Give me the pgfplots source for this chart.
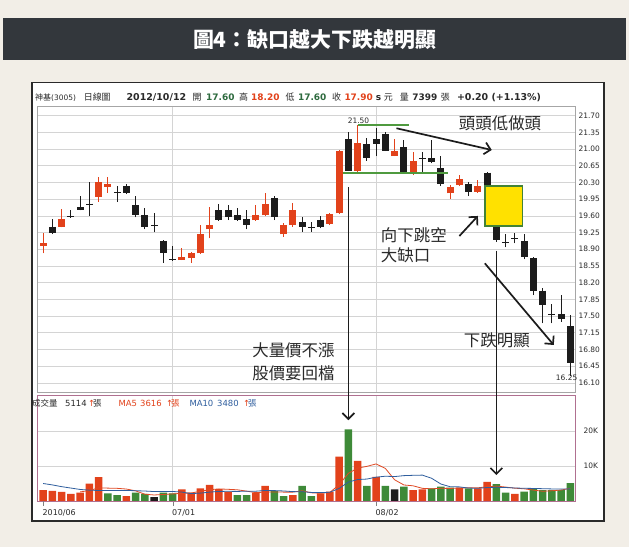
\documentclass[border=0pt]{standalone}
\usepackage{pgfplots}
\pgfplotsset{compat=1.18}
\usepackage{pgfplotstable}
\usepackage{fontspec}
\usetikzlibrary{arrows.meta}
\setmainfont{DejaVu Sans}
\newfontfamily\cjk{Noto Sans CJK TC}

\definecolor{bgc}{HTML}{F2EEE7}
\definecolor{band}{HTML}{33373C}
\definecolor{cred}{HTML}{E2421B}
\definecolor{cblk}{HTML}{1C1C1C}
\definecolor{cgrn}{HTML}{3E8A38}
\definecolor{lgrn}{HTML}{4F9A3F}
\definecolor{gridc}{HTML}{D4D4D4}
\definecolor{mauve}{HTML}{B07090}
\definecolor{ma5}{HTML}{E04A25}
\definecolor{ma10}{HTML}{2F5E9E}
\definecolor{vgreen}{HTML}{2E6B3F}
\definecolor{txt}{HTML}{2A2A2A}
\definecolor{gapy}{HTML}{FFE100}

% daily candles, index i = trading day
\pgfplotstableread{
i  O      H      L      C
0  18.967 19.232 18.813 19.037
2  19.372 19.735 19.358 19.526
6  20.001 20.420 19.896 20.308
7  20.210 20.420 20.085 20.266
15 18.673 18.918 18.673 18.729
16 18.715 18.841 18.617 18.827
17 18.813 19.414 18.806 19.218
18 19.316 19.777 19.127 19.407
23 19.512 19.826 19.498 19.610
24 19.610 20.071 19.596 19.847
26 19.211 19.456 19.162 19.407
27 19.407 19.861 19.372 19.721
31 19.428 19.665 19.407 19.638
32 19.651 20.979 19.638 20.965
34 20.546 21.500 20.504 21.119
38 20.853 21.203 20.853 20.965
40 20.525 20.944 20.455 20.755
44 20.071 20.245 19.959 20.210
45 20.245 20.455 20.224 20.364
47 20.106 20.350 20.085 20.224
}\redc

\pgfplotstableread{
i  O      H      L      C
1  19.372 19.526 19.218 19.246
3  19.589 19.721 19.561 19.568
4  19.777 20.022 19.714 19.721
5  19.855 20.315 19.603 19.835
8  20.092 20.224 19.896 20.071
9  20.224 20.266 20.057 20.085
10 19.826 20.022 19.568 19.617
11 19.610 19.770 19.316 19.372
12 19.407 19.651 19.253 19.379
13 19.078 19.093 18.617 18.813
14 18.687 18.967 18.659 18.666
19 19.721 19.847 19.498 19.512
20 19.721 19.826 19.512 19.568
21 19.610 19.770 19.498 19.512
22 19.526 19.721 19.316 19.400
25 19.973 20.022 19.512 19.568
28 19.470 19.582 19.267 19.372
29 19.365 19.477 19.267 19.345
30 19.512 19.596 19.337 19.358
33 21.203 21.363 20.539 20.546
35 21.105 21.224 20.755 20.804
36 21.203 21.433 20.853 21.105
37 21.307 21.349 20.958 20.965
39 21.035 21.189 20.518 20.525
41 20.811 20.944 20.525 20.790
42 20.804 21.189 20.700 20.734
43 20.595 20.853 20.224 20.266
46 20.266 20.315 20.015 20.106
48 20.504 20.518 20.224 20.245
49 19.372 19.386 19.058 19.093
50 19.044 19.218 18.939 19.023
51 19.134 19.232 19.023 19.113
52 19.078 19.218 18.687 18.729
53 18.708 18.743 17.940 18.031
54 18.031 18.080 17.346 17.730
55 17.548 17.751 17.346 17.528
56 17.541 17.940 17.381 17.437
57 17.290 17.521 16.250 16.507
}\blkc

\tikzset{arr/.style={draw=cblk, line width=1.7bp,
    -{Straight Barb[length=6bp, width=12bp]}}}

\pgfplotsset{
  base/.style={scale only axis, width=538bp, xmin=-0.66, xmax=57.5,
    anchor=south west, clip=false,
    grid style={draw=gridc, line width=0.7bp},
    tick label style={font=\fontsize{7.5}{9}\selectfont, text=txt},
    /pgf/number format/assume math mode=true,
    scaled y ticks=false,
    yticklabel pos=right,
  },
  wick/.style={draw=#1, mark=none, line width=1.1bp,
    quiver={u=0, v=\thisrow{H}-\thisrow{L}}},
  body/.style={draw=#1, mark=none, line width=7bp,
    quiver={u=0, v=\thisrow{C}-\thisrow{O}}},
}

\newcommand\hd[3][txt]{\node[anchor=base west, inner sep=0, text=#1] at (#2,446.5) {#3};}
\newcommand\vh[3][txt]{\node[anchor=west, inner sep=0, text=#1] at (#2,144) {#3};}

\begin{document}
\begin{tikzpicture}[x=1bp,y=1bp]
\fill[bgc] (0,0) rectangle (629,547);
\fill[band] (3,487) rectangle (626,529);
\node[text=white, font=\cjk\bfseries\fontsize{21}{24}\selectfont] at (314.5,507.5) {圖4：缺口越大下跌越明顯};
\filldraw[fill=white, draw=txt, line width=1.1bp] (32,26) rectangle (604,464.5);

% header of the price panel
\hd{35}{{\cjk\fontsize{8}{9}\selectfont 神基}{\fontsize{7.5}{9}\selectfont(3005)}}
\hd{83.6}{\cjk\fontsize{9}{10}\selectfont 日線圖}
\hd{126.4}{\bfseries\fontsize{9.5}{10}\selectfont 2012/10/12}
\hd{192.5}{\cjk\fontsize{9}{10}\selectfont 開}
\hd[vgreen]{206}{\bfseries\fontsize{9}{10}\selectfont 17.60}
\hd{239}{\cjk\fontsize{9}{10}\selectfont 高}
\hd[cred]{251}{\bfseries\fontsize{9}{10}\selectfont 18.20}
\hd{285.4}{\cjk\fontsize{9}{10}\selectfont 低}
\hd[vgreen]{297.9}{\bfseries\fontsize{9}{10}\selectfont 17.60}
\hd{331.8}{\cjk\fontsize{9}{10}\selectfont 收}
\hd[cred]{344.3}{\bfseries\fontsize{9}{10}\selectfont 17.90}
\hd{375.7}{\bfseries\fontsize{9}{10}\selectfont s}
\hd{383.6}{\cjk\fontsize{9}{10}\selectfont 元}
\hd{399.6}{\cjk\fontsize{9}{10}\selectfont 量}
\hd{412.1}{\bfseries\fontsize{9}{10}\selectfont 7399}
\hd{440.7}{\cjk\fontsize{9}{10}\selectfont 張}
\hd{456.8}{\bfseries\fontsize{9.5}{10}\selectfont +0.20 (+1.13\%)}

% price panel
\begin{axis}[base, at={(37bp,155bp)}, height=286bp,
  ymin=15.909, ymax=21.903,
  ytick={16.10,16.45,16.80,17.15,17.50,17.85,18.20,18.55,18.90,19.25,19.60,19.95,20.30,20.65,21.00,21.35,21.70},
  yticklabel style={/pgf/number format/fixed, /pgf/number format/fixed zerofill,
    /pgf/number format/precision=2},
  xtick={14,36}, xticklabels={},
  major tick length=0pt,
  ymajorgrids, xmajorgrids,
  axis line style={draw=gray!70},
]
\addplot[wick=cred] table[x=i, y=L] {\redc};
\addplot[body=cred] table[x=i, y=O] {\redc};
\addplot[wick=cblk] table[x=i, y=L] {\blkc};
\addplot[body=cblk] table[x=i, y=O] {\blkc};

\draw[lgrn, line width=1.5bp] (axis cs:34,21.50) -- (axis cs:39.5,21.50);
\draw[lgrn, line width=1.5bp] (axis cs:32.4,20.50) -- (axis cs:43.75,20.50);
\filldraw[fill=gapy, draw=lgrn!85!black, line width=1.4bp]
  (axis cs:47.75,20.225) rectangle (axis cs:51.83,19.386);
\node[font=\fontsize{7.5}{9}\selectfont, text=txt] at (axis cs:34.1,21.595) {21.50};
\node[font=\fontsize{7.5}{9}\selectfont, text=txt] at (axis cs:56.6,16.21) {16.25};

\node[font=\cjk\fontsize{16.5}{20}\selectfont, text=txt] at (axis cs:49.4,21.545) {頭頭低做頭};
\node[font=\cjk\fontsize{16.5}{20}\selectfont, text=txt, anchor=west, inner sep=0, align=left]
  at (axis cs:36.5,18.99) {向下跳空\\大缺口};
\node[font=\cjk\fontsize{16.5}{20}\selectfont, text=txt] at (axis cs:49.05,16.984) {下跌明顯};
\node[font=\cjk\fontsize{16.5}{22.6}\selectfont, text=txt, anchor=west, inner sep=0, align=left]
  at (axis cs:22.6,16.538) {大量價不漲\\股價要回檔};

\draw[arr] (axis cs:38.2,21.436) -- (axis cs:48.5,20.981);
\draw[arr] (axis cs:45.0,19.178) -- (axis cs:47.0,19.598);
\draw[arr] (axis cs:47.75,18.606) -- (axis cs:55.2,16.894);
\coordinate (c1) at (axis cs:33,20.199);
\coordinate (d1) at (axis cs:49,18.870);
\end{axis}

% volume panel
\begin{axis}[base, at={(37bp,46bp)}, height=106bp,
  ymin=0, ymax=30.3,
  ytick={10,20}, yticklabels={10K,20K},
  xtick={14,36}, xticklabels={07/01,08/02},
  extra x ticks={0}, extra x tick labels={2010/06},
  extra x tick style={grid=none},
  xtick pos=bottom, tick align=outside, major tick length=5bp,
  ytick style={draw=none}, xtick style={draw=gray},
  xticklabel style={anchor=north west, xshift=-4bp, font=\fontsize{8}{9}\selectfont},
  ymajorgrids, xmajorgrids,
  axis line style={draw=mauve},
]
\addplot[ybar, bar width=7.5bp, bar shift=0pt, fill=cred, draw=none] coordinates {
(0,3.1)(1,2.9)(2,2.6)(3,2.0)(4,2.4)(5,5.0)(6,6.8)(9,1.4)(15,3.3)(16,2.4)
(17,3.6)(18,4.6)(19,3.4)(20,2.7)(23,2.4)(24,4.3)(27,1.7)(30,2.2)(31,2.7)
(32,12.7)(34,11.5)(36,6.9)(40,3.1)(41,3.3)(45,3.8)(47,3.6)(48,5.5)(51,2.0)};
\addplot[ybar, bar width=7.5bp, bar shift=0pt, fill=cgrn, draw=none] coordinates {
(7,2.2)(8,1.7)(10,2.4)(11,2.0)(13,2.4)(14,2.2)(21,1.7)(22,1.7)(25,2.9)(26,1.4)
(28,4.3)(29,1.4)(33,20.5)(35,4.3)(37,4.3)(39,4.1)(42,3.6)(43,4.1)(44,3.8)
(46,3.6)(49,4.8)(50,2.4)(52,2.7)(53,3.7)(54,3.1)(55,3.1)(56,3.1)(57,5.1)};
\addplot[ybar, bar width=7.5bp, bar shift=0pt, fill=cblk, draw=none] coordinates {
(12,1.1)(38,3.3)};
\addplot[ma5, line width=0.8bp, mark=none] coordinates {
(4,2.60)(5,2.98)(6,3.76)(7,3.68)(8,3.62)(9,3.42)(10,2.90)(11,1.94)(12,1.72)
(13,1.86)(14,2.02)(15,2.20)(16,2.28)(17,2.78)(18,3.22)(19,3.46)(20,3.34)
(21,3.20)(22,2.82)(23,2.38)(24,2.56)(25,2.60)(26,2.54)(27,2.54)(28,2.92)
(29,2.34)(30,2.20)(31,2.46)(32,4.66)(33,7.90)(34,9.40)(35,9.90)(36,10.60)
(37,9.30)(38,6.06)(39,4.58)(40,4.34)(41,3.62)(42,3.48)(43,3.64)(44,3.58)
(45,3.72)(46,3.78)(47,3.78)(48,4.06)(49,4.26)(50,3.98)(51,3.66)(52,3.48)
(53,3.12)(54,2.78)(55,2.92)(56,3.14)(57,3.62)};
\addplot[ma10, line width=0.8bp, mark=none] coordinates {
(0,5.0)(1,4.6)(2,4.1)(3,3.7)(4,3.3)(5,3.1)(6,3.0)(7,3.0)(8,3.0)(9,3.01)
(10,2.94)(11,2.85)(12,2.70)(13,2.74)(14,2.72)(15,2.55)(16,2.11)(17,2.25)
(18,2.54)(19,2.74)(20,2.77)(21,2.74)(22,2.80)(23,2.80)(24,3.01)(25,2.97)
(26,2.87)(27,2.68)(28,2.65)(29,2.45)(30,2.40)(31,2.50)(32,3.60)(33,5.41)
(34,6.13)(35,6.27)(36,6.82)(37,7.08)(38,6.98)(39,7.25)(40,7.34)(41,7.40)
(42,6.49)(43,4.85)(44,4.08)(45,4.03)(46,3.70)(47,3.63)(48,3.85)(49,3.92)
(50,3.85)(51,3.72)(52,3.63)(53,3.59)(54,3.52)(55,3.45)(56,3.40)(57,3.48)};
\coordinate (c2) at (axis cs:33,23.1);
\coordinate (d2) at (axis cs:49,7.4);
\end{axis}

\draw[arr] (c1) -- (c2);
\draw[arr] (d1) -- (d2);

% volume legend line
\vh{32}{\cjk\fontsize{8.5}{9}\selectfont 成交量}
\vh{65}{\fontsize{8.5}{9}\selectfont 5114}
\vh[cred]{88}{\fontsize{8.5}{9}\selectfont ↑}
\vh{93}{\cjk\fontsize{8.5}{9}\selectfont 張}
\vh[cred]{118.3}{\fontsize{8.5}{9}\selectfont MA5}
\vh[cred]{140}{\fontsize{8.5}{9}\selectfont 3616}
\vh[cred]{166}{\fontsize{8.5}{9}\selectfont ↑}
\vh[cred]{171}{\cjk\fontsize{8.5}{9}\selectfont 張}
\vh[ma10]{189.3}{\fontsize{8.5}{9}\selectfont MA10}
\vh[ma10]{217}{\fontsize{8.5}{9}\selectfont 3480}
\vh[cred]{243}{\fontsize{8.5}{9}\selectfont ↑}
\vh[ma10]{248}{\cjk\fontsize{8.5}{9}\selectfont 張}
\end{tikzpicture}
\end{document}
